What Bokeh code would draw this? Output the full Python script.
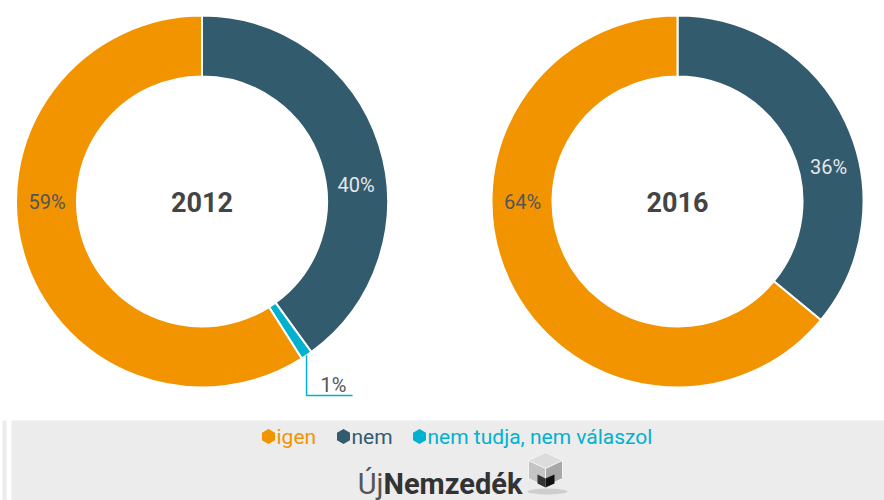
import math
from bokeh.plotting import figure
from bokeh.models import Range1d
from bokeh.core.properties import value
from bokeh.embed import file_html
from bokeh.resources import INLINE

# ---------------- data ----------------
years = ["2012", "2016"]
categories = ["nem", "nem tudja, nem válaszol", "igen"]   # clockwise order from 12 o'clock
values_2012 = [40, 1, 59]
values_2016 = [36, 0, 64]
legend_labels = ["igen", "nem", "nem tudja, nem válaszol"]
series_values = {"2012": values_2012, "2016": values_2016}
colors = {"igen": "#F29400", "nem": "#335B6E", "nem tudja, nem válaszol": "#00B2CF"}
label_colors = {"igen": "#555555", "nem": "#E3E8EB", "nem tudja, nem válaszol": "#555555"}

# ---------------- layout ----------------
W, H = 884, 500
def X(rx):
    return rx
def Y(ry):
    return H - ry

centers = {"2012": (201.5, 201), "2016": (677, 201)}
R_OUT, R_IN = 186, 125
R_LAB = 155
# bearing (deg, clockwise from top) of in-ring labels
label_bearing = {("2012", "nem"): 84, ("2012", "igen"): 270,
                 ("2016", "nem"): 77, ("2016", "igen"): 270}
FONT = "Roboto"

p = figure(width=W, height=H, x_range=Range1d(0, W), y_range=Range1d(0, H),
           output_backend="svg", toolbar_location=None, min_border=0)
p.xaxis.visible = False
p.yaxis.visible = False
p.grid.visible = False
p.outline_line_color = None
p.background_fill_color = "white"
p.border_fill_color = "white"

# footer band
p.quad(left=X(11), right=X(884), bottom=Y(500), top=Y(420), color="#ECECEC", line_color=None)
p.quad(left=X(2), right=X(6), bottom=Y(500), top=Y(420), color="#ECECEC", line_color=None)

for yr in years:
    cx, cy = centers[yr]
    vals = series_values[yr]
    total = float(sum(vals))
    cum = 0.0
    for cat, v in zip(categories, vals):
        if v <= 0:
            continue
        b0 = cum / total * 2 * math.pi
        b1 = (cum + v) / total * 2 * math.pi
        cum += v
        p.annular_wedge(x=[X(cx)], y=[Y(cy)], inner_radius=R_IN, outer_radius=R_OUT,
                        start_angle=math.pi / 2 - b0, end_angle=math.pi / 2 - b1,
                        direction="clock", fill_color=colors[cat],
                        line_color="white", line_width=2)
        txt = f"{v}%"
        if (yr, cat) in label_bearing:
            bb = math.radians(label_bearing[(yr, cat)])
            lx = cx + R_LAB * math.sin(bb)
            ly = cy - R_LAB * math.cos(bb)
            p.text(x=[X(lx)], y=[Y(ly)], text=[txt], text_align="center",
                   text_baseline="middle", text_font=value(FONT),
                   text_font_size="20px", text_color=label_colors[cat])
        else:
            bm = (b0 + b1) / 2
            ax = cx + R_OUT * math.sin(bm)
            ay = cy - R_OUT * math.cos(bm)
            p.line(x=[X(ax), X(ax), X(ax + 46)], y=[Y(ay), Y(395), Y(395)],
                   line_color=colors[cat], line_width=1.5)
            p.text(x=[X(ax + 27)], y=[Y(384)], text=[txt], text_align="center",
                   text_baseline="middle", text_font=value(FONT),
                   text_font_size="20px", text_color=label_colors[cat])
    # year in the centre
    p.text(x=[X(cx)], y=[Y(cy)], text=[yr], text_align="center", text_baseline="middle",
           text_font=value(FONT), text_font_size="27px", text_font_style="bold",
           text_color="#444444")

# legend
leg_x = {"igen": 268, "nem": 343, "nem tudja, nem válaszol": 419}
for lab in legend_labels:
    p.scatter(x=[X(leg_x[lab])], y=[Y(436)], marker="hex", size=15, angle=math.pi / 2,
              fill_color=colors[lab], line_color=None)
    p.text(x=[X(leg_x[lab] + 8)], y=[Y(436)], text=[lab], text_align="left",
           text_baseline="middle", text_font=value(FONT), text_font_size="21px",
           text_color=colors[lab])

# logo
p.text(x=[X(383)], y=[Y(483)], text=["Új"], text_align="right", text_baseline="alphabetic",
       text_font=value(FONT), text_font_size="29px", text_color="#555555")
p.text(x=[X(383)], y=[Y(483)], text=["Nemzedék"], text_align="left", text_baseline="alphabetic",
       text_font=value(FONT), text_font_size="29px", text_font_style="bold", text_color="#333333")
# cube icon
p.ellipse(x=[X(547)], y=[Y(491)], width=40, height=6, fill_color="#bbbbbb", line_color=None, alpha=0.6)
p.patch(x=[X(545), X(562), X(545), X(528)], y=[Y(452), Y(460), Y(468), Y(460)], fill_color="#dcdcdc", line_color="#f4f4f4")
p.patch(x=[X(528), X(545), X(545), X(528)], y=[Y(460), Y(468), Y(486), Y(478)], fill_color="#c4c4c4", line_color="#f4f4f4")
p.patch(x=[X(545), X(562), X(562), X(545)], y=[Y(468), Y(460), Y(478), Y(486)], fill_color="#a8a8a8", line_color="#f4f4f4")
p.patch(x=[X(545), X(554), X(554), X(545)], y=[Y(478), Y(474), Y(483), Y(487)], fill_color="#111111", line_color=None)
p.patch(x=[X(537), X(545), X(545), X(537)], y=[Y(474), Y(478), Y(487), Y(483)], fill_color="#333333", line_color=None)

open("out.html", "w").write(file_html(p, INLINE))
